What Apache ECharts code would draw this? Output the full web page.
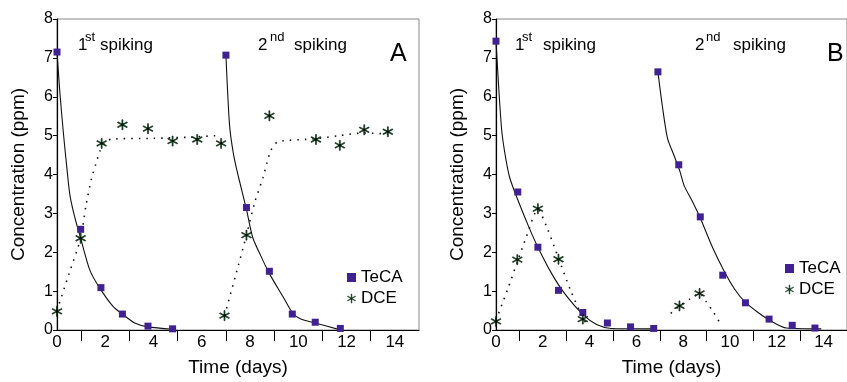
<!DOCTYPE html>
<html>
<head>
<meta charset="utf-8">
<script src="https://cdn.jsdelivr.net/npm/echarts@6/dist/echarts.min.js"></script>
<style>
  html, body { margin: 0; padding: 0; background: #fff; }
  #chart { width: 847px; height: 382px; }
</style>
</head>
<body>
<div id="chart"></div>
<script>
// tick labels
const xLabelValues = [0, 2, 4, 6, 8, 10, 12, 14];
const xTickValues = [1, 3, 5, 7, 9, 11, 13];

// panel A measurements [day, ppm]
const tecaA = [[0, 7.15], [0.98, 2.59], [1.82, 1.09], [2.71, 0.41], [3.77, 0.1], [4.79, 0.03],
  [7, 7.07], [7.85, 3.15], [8.8, 1.51], [9.75, 0.41], [10.7, 0.2], [11.74, 0.04]];
const dceA = [[0, 0.48], [0.98, 2.36], [1.85, 4.8], [2.71, 5.28], [3.77, 5.18], [4.79, 4.86],
  [5.81, 4.9], [6.8, 4.8], [6.94, 0.37], [7.85, 2.44], [8.8, 5.51], [10.73, 4.9],
  [11.72, 4.75], [12.73, 5.15], [13.71, 5.1]];

// panel A fitted curves
const tecaFitA1 = [[0, 7.15], [0.12, 6.1], [0.26, 5.1], [0.42, 4.1], [0.54, 3.45], [0.74, 2.89],
  [0.98, 2.36], [1.36, 1.54], [1.78, 1.07], [2.33, 0.6], [2.71, 0.41], [3.22, 0.18], [3.77, 0.08], [4.8, 0.02]];
const tecaFitA2 = [[7, 7.07], [7.15, 5.27], [7.32, 4.5], [7.53, 3.91], [7.85, 3.1], [8.11, 2.38],
  [8.45, 1.9], [8.8, 1.45], [9.36, 0.86], [9.75, 0.45], [10.1, 0.28], [10.7, 0.18], [11.7, 0.01]];
const dceFitA1 = [[0, 0.5], [0.5, 1.45], [0.98, 2.36], [1.2, 3.2], [1.43, 3.9], [1.6, 4.25],
  [1.78, 4.6], [2.0, 4.82], [2.26, 4.91], [4, 4.93], [5.5, 4.96], [6.6, 5.0]];
const dceFitA2 = [[6.94, 0.37], [7.4, 1.4], [7.85, 2.44], [8.2, 3.3], [8.53, 3.91], [8.7, 4.3],
  [8.87, 4.63], [9.15, 4.84], [10.7, 4.92], [11.7, 5.0], [12.7, 5.07], [13.7, 5.04]];

// panel B measurements [day, ppm]
const tecaB = [[0, 7.43], [0.93, 3.55], [1.79, 2.13], [2.67, 1.02], [3.71, 0.45], [4.76, 0.18],
  [5.75, 0.08], [6.74, 0.04], [6.92, 6.64], [7.81, 4.25], [8.73, 2.91], [9.69, 1.41],
  [10.66, 0.7], [11.67, 0.28], [12.66, 0.12], [13.63, 0.05]];
const dceB = [[0, 0.22], [0.91, 1.81], [1.79, 3.12], [2.67, 1.82], [3.71, 0.28], [7.84, 0.62], [8.7, 0.94]];

// panel B fitted curves
const tecaFitB1 = [[0, 7.43], [0.12, 6.2], [0.25, 5.1], [0.42, 4.4], [0.59, 3.91], [0.93, 3.35],
  [1.41, 2.64], [1.79, 2.13], [2.38, 1.45], [2.93, 0.94], [3.71, 0.4], [4.3, 0.14], [4.92, 0.04], [6.8, 0.03]];
const tecaFitB2 = [[6.92, 6.64], [7.1, 5.8], [7.33, 4.93], [7.6, 4.5], [7.85, 4.1], [8.05, 3.7],
  [8.4, 3.3], [8.73, 2.88], [9.25, 2.13], [9.73, 1.54], [10.2, 1.05], [10.63, 0.73],
  [11.2, 0.45], [11.67, 0.26], [12.42, 0.05], [13.9, 0.03]];
const dceFitB1 = [[0, 0.25], [0.5, 1.05], [0.91, 1.75], [1.3, 2.4], [1.79, 3.1], [2.2, 2.6],
  [2.67, 1.85], [3.2, 1.0], [3.71, 0.32], [3.9, 0.12]];
const dceFitB2 = [[7.47, 0.43], [7.84, 0.62], [8.3, 0.8], [8.7, 0.94], [8.98, 0.73], [9.3, 0.45], [9.6, 0.15]];

const FONT = 'Liberation Sans, Arial, sans-serif';
const TECA_COLOR = '#3f228f';
const DCE_COLOR = '#137a2e';
// asterisk marker: three thin crossing bars
const STAR = 'path://M9.1 0L10.9 0L10.9 20L9.1 20Z M18.21 15.78L19.11 14.22L1.79 4.22L0.89 5.78Z M19.11 5.78L18.21 4.22L0.89 14.22L1.79 15.78Z';

const chart = echarts.init(document.getElementById('chart'));

function xAxisFor(gridIndex) {
  return {
    type: 'value', gridIndex, min: 0, max: 15,
    name: 'Time (days)', nameLocation: 'middle', nameGap: 28,
    nameTextStyle: { fontSize: 19, color: '#000', fontFamily: FONT },
    axisLine: { onZero: false, lineStyle: { color: '#000', width: 1.2 } },
    axisTick: { show: true, customValues: xTickValues, length: 11, lineStyle: { color: '#000' } },
    axisLabel: { customValues: xLabelValues, fontSize: 17, color: '#000', fontFamily: FONT, margin: 4 },
    splitLine: { show: false }
  };
}

function yAxisFor(gridIndex) {
  return {
    type: 'value', gridIndex, min: 0, max: 8, interval: 1,
    name: 'Concentration (ppm)', nameLocation: 'middle', nameGap: 29,
    nameTextStyle: { fontSize: 19, color: '#000', fontFamily: FONT },
    axisLine: { show: true, onZero: false, lineStyle: { color: '#000', width: 1.2 } },
    axisTick: { show: true, length: 4, lineStyle: { color: '#000' } },
    axisLabel: { fontSize: 16, color: '#000', fontFamily: FONT, margin: 4 },
    splitLine: { show: false }
  };
}

function panelSeries(idx, teca, dce, tecaFits, dceFits) {
  const out = [];
  tecaFits.forEach(d => out.push({
    name: 'TeCA fit', type: 'line', xAxisIndex: idx, yAxisIndex: idx, data: d,
    showSymbol: false, smooth: 0.25, z: 2, silent: true,
    lineStyle: { color: '#111', width: 1.1 }
  }));
  dceFits.forEach(d => out.push({
    name: 'DCE fit', type: 'line', xAxisIndex: idx, yAxisIndex: idx, data: d,
    showSymbol: false, smooth: 0.25, z: 2, silent: true,
    lineStyle: { color: '#111', width: 1.6, type: [1.5, 6] }
  }));
  out.push({
    name: 'TeCA', type: 'scatter', xAxisIndex: idx, yAxisIndex: idx, data: teca,
    symbol: 'rect', symbolSize: 7, z: 4,
    itemStyle: { color: TECA_COLOR, opacity: 1 }
  });
  out.push({
    name: 'DCE', type: 'scatter', xAxisIndex: idx, yAxisIndex: idx, data: dce,
    symbol: STAR, symbolSize: 10, z: 5,
    itemStyle: { color: DCE_COLOR, borderColor: '#000', borderWidth: 0.6, opacity: 1 }
  });
  return out;
}

function legendFor(left, top) {
  return {
    orient: 'vertical', left, top, itemGap: 4, itemWidth: 9, itemHeight: 9,
    textStyle: { fontSize: 17, color: '#000', fontFamily: FONT },
    itemStyle: { borderWidth: 0.4 },
    data: [{ name: 'TeCA', icon: 'rect' }, { name: 'DCE', icon: STAR }],
    selectedMode: false
  };
}

function txt(x, y, text, size) {
  return { type: 'text', x, y, style: { text, fontSize: size, fill: '#000', fontFamily: FONT, textBaseline: 'alphabetic' } };
}

const option = {
  animation: false,
  grid: [
    { left: 57, top: 19, width: 362, height: 315, show: true, borderColor: '#888', borderWidth: 1 },
    { left: 496, top: 19, width: 364, height: 315, show: true, borderColor: '#888', borderWidth: 1 }
  ],
  xAxis: [xAxisFor(0), xAxisFor(1)],
  yAxis: [yAxisFor(0), yAxisFor(1)],
  legend: [legendFor(342, 264), legendFor(780, 255)],
  series: [
    ...panelSeries(0, tecaA, dceA, [tecaFitA1, tecaFitA2], [dceFitA1, dceFitA2]),
    ...panelSeries(1, tecaB, dceB, [tecaFitB1, tecaFitB2], [dceFitB1, dceFitB2])
  ],
  graphic: [
    txt(78, 37, '1', 17), txt(85, 31, 'st', 13), txt(100, 37, 'spiking', 17),
    txt(258, 37, '2', 17), txt(270, 31, 'nd', 13), txt(294, 37, 'spiking', 17),
    txt(390, 42, 'A', 25),
    txt(515, 37, '1', 17), txt(522, 31, 'st', 13), txt(543, 37, 'spiking', 17),
    txt(695, 37, '2', 17), txt(706, 31, 'nd', 13), txt(733, 37, 'spiking', 17),
    txt(827, 42, 'B', 25)
  ]
};

chart.setOption(option);
</script>
</body>
</html>
